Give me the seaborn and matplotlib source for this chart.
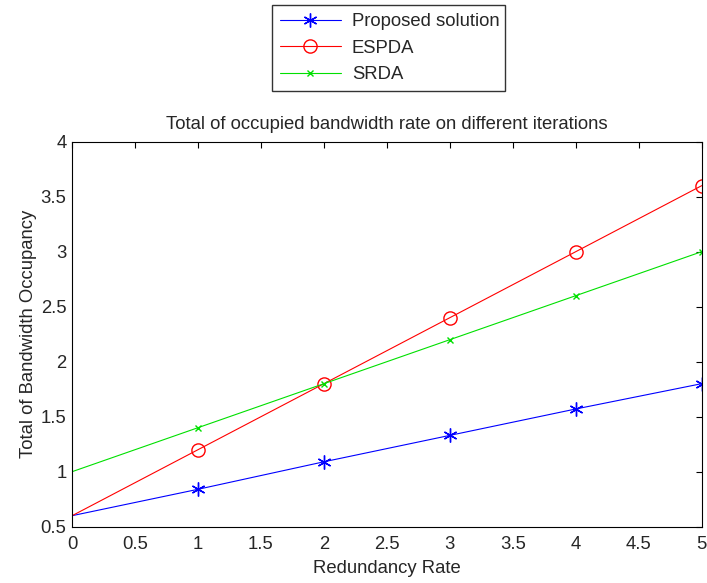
import matplotlib
matplotlib.use("Agg")
import matplotlib.pyplot as plt
import seaborn as sns
import pandas as pd

x_vals = [0, 1, 2, 3, 4, 5]
proposed = [0.6, 0.84, 1.09, 1.33, 1.57, 1.8]
espda = [0.6, 1.2, 1.8, 2.4, 3.0, 3.6]
srda = [1.0, 1.4, 1.8, 2.2, 2.6, 3.0]
series_names = ["Proposed solution", "ESPDA", "SRDA"]
x_ticks = [0, 0.5, 1, 1.5, 2, 2.5, 3, 3.5, 4, 4.5, 5]
y_ticks = [0.5, 1, 1.5, 2, 2.5, 3, 3.5, 4]

sns.set_style("white")
plt.rcParams['font.family'] = ['Liberation Sans', 'DejaVu Sans']
plt.rcParams['xtick.direction'] = 'in'
plt.rcParams['ytick.direction'] = 'in'

FS = 13.3
fig = plt.figure(figsize=(7.07, 5.83), dpi=100)
ax = fig.add_axes([0.102, 0.0966, 0.8905, 0.6604])

styles = [
    (proposed, "#0000ff", (6, 2, 0), 10, "none"),
    (espda, "#ff0000", "o", 9.5, "none"),
    (srda, "#00e000", "x", 5, "none"),
]
for (vals, col, mk, ms, mfc), name in zip(styles, series_names):
    df = pd.DataFrame({"x": x_vals, "y": vals})
    sns.lineplot(data=df, x="x", y="y", ax=ax, color=col, marker=mk,
                 markersize=ms, markerfacecolor=mfc, markeredgecolor=col,
                 markeredgewidth=1.0, linewidth=0.8, markevery=[1, 2, 3, 4, 5],
                 label=name, legend=False)

ax.set_xlim(0, 5)
ax.set_ylim(0.5, 4)
ax.set_xticks(x_ticks)
ax.set_xticklabels([f"{t:g}" for t in x_ticks])
ax.set_yticks(y_ticks)
ax.set_yticklabels([f"{t:g}" for t in y_ticks])
ax.tick_params(axis='both', which='both', direction='in', top=True, right=True,
               length=4, width=0.8, labelsize=FS, color='black')
ax.tick_params(axis='x', pad=7)
ax.tick_params(axis='y', pad=4)
for s in ax.spines.values():
    s.set_color('black')
    s.set_linewidth(0.8)
ax.set_xlabel("Redundancy Rate", fontsize=FS, labelpad=5)
ax.set_ylabel("Total of Bandwidth Occupancy", fontsize=FS, labelpad=3)
ax.set_title("Total of occupied bandwidth rate on different iterations", fontsize=FS, pad=9)

handles = ax.get_lines()[:3]
leg = fig.legend(handles, series_names, loc='upper left',
                 bbox_to_anchor=(0.385, 0.843, 0.329, 0.148), mode='expand',
                 fancybox=False, frameon=True, fontsize=FS, borderaxespad=0,
                 handlelength=3.3, labelspacing=0.52, borderpad=0.42,
                 handletextpad=0.6)
leg.get_frame().set_edgecolor('black')
leg.get_frame().set_linewidth(1.0)

fig.savefig("out.png", dpi=100)
